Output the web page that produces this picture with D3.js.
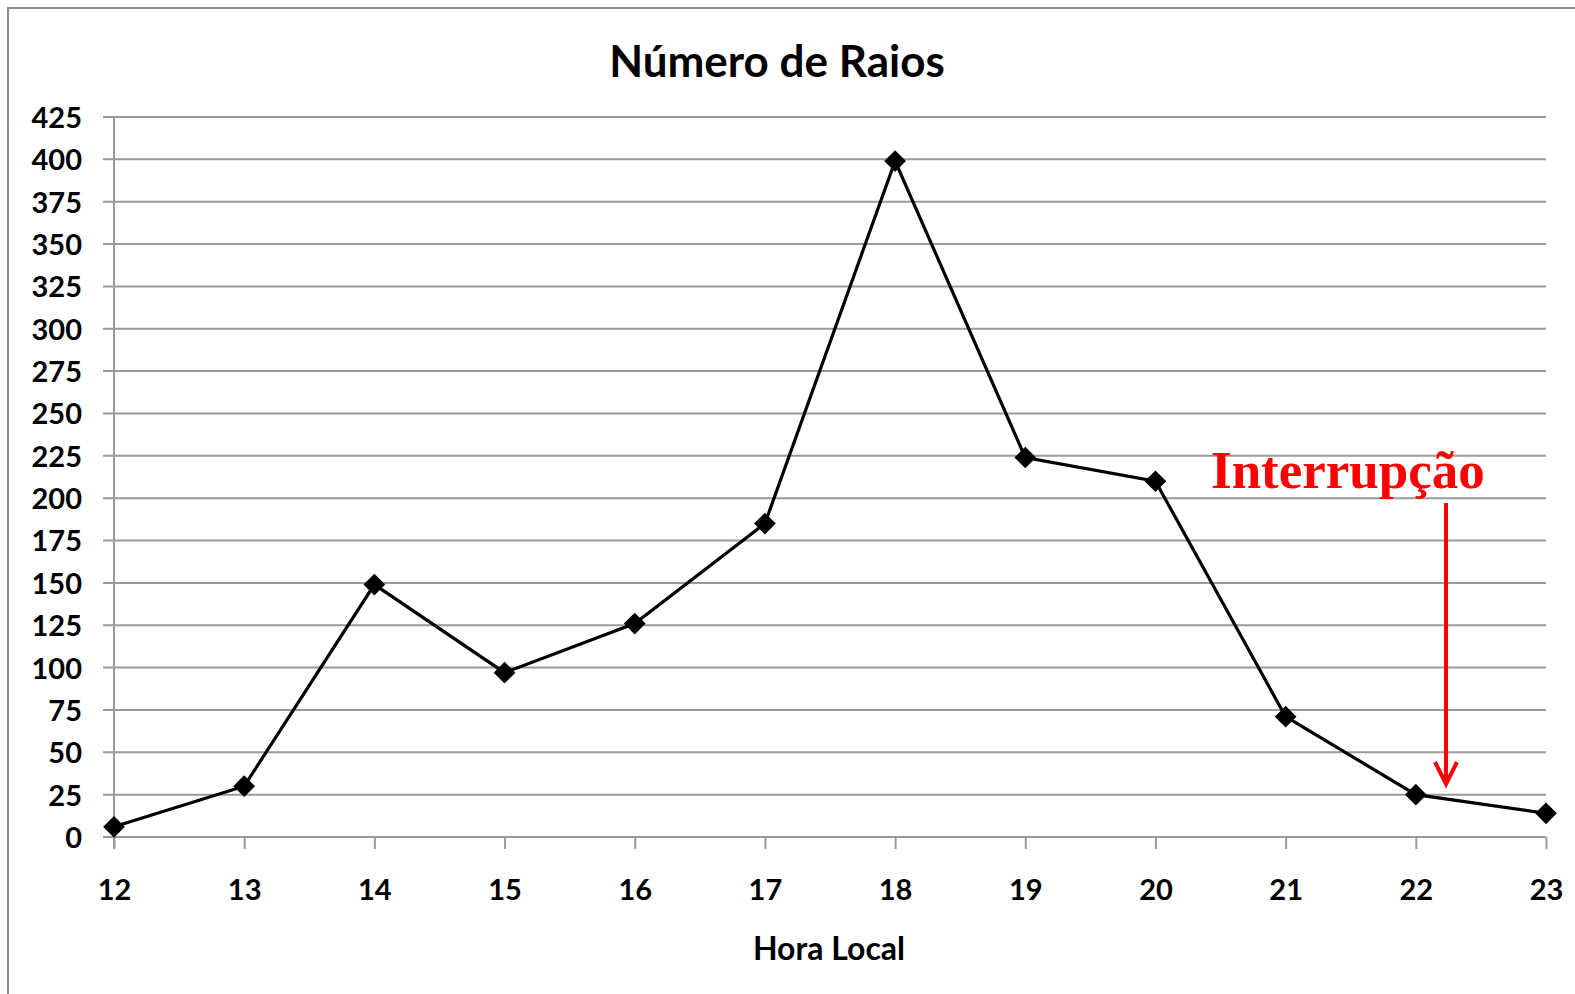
<!DOCTYPE html>
<html>
<head>
<meta charset="utf-8">
<script src="https://cdn.jsdelivr.net/npm/d3@7"></script>
<style>
  body { margin: 0; background: #fff; }
  .axis text { font-family: Lato, "Open Sans", sans-serif; font-weight: bold; fill: #000; }
  .axis path { display: none; }
</style>
</head>
<body>
<script>
// lightning counts per local hour
var hours = [12, 13, 14, 15, 16, 17, 18, 19, 20, 21, 22, 23];
var raios = [6, 30, 149, 97, 126, 185, 399, 224, 210, 71, 25, 14];
var yTicks = d3.range(0, 426, 25);

var width = 1575, height = 994;

var svg = d3.select("body").append("svg")
  .attr("width", width)
  .attr("height", height);

// outer chart frame (runs off the right and bottom edges)
svg.append("rect")
  .attr("x", 8).attr("y", 8)
  .attr("width", 1600).attr("height", 1000)
  .attr("fill", "none")
  .attr("stroke", "#8c8c8c")
  .attr("stroke-width", 2);

var xScale = d3.scaleLinear().domain([12, 23]).range([114, 1546]);
var yScale = d3.scaleLinear().domain([0, 425]).range([837, 117]);

// horizontal gridlines with the y tick marks
svg.append("g")
  .selectAll("line")
  .data(yTicks)
  .enter()
  .append("line")
  .attr("x1", 103)
  .attr("x2", xScale(23))
  .attr("y1", function(d) { return yScale(d); })
  .attr("y2", function(d) { return yScale(d); })
  .attr("stroke", "#9a9a9a")
  .attr("stroke-width", 2);

// y axis line
svg.append("line")
  .attr("x1", xScale(12)).attr("x2", xScale(12))
  .attr("y1", yScale(425)).attr("y2", yScale(0) + 12)
  .attr("stroke", "#9a9a9a")
  .attr("stroke-width", 2);

// y axis labels
var yAxis = d3.axisLeft(yScale).tickValues(yTicks).tickSize(0).tickPadding(32);
svg.append("g")
  .attr("class", "axis")
  .attr("transform", "translate(" + xScale(12) + ",0)")
  .call(yAxis)
  .selectAll("text")
  .style("font-size", "29px")
  .attr("dy", "0.36em");

// x axis
var xAxis = d3.axisBottom(xScale).tickValues(hours).tickSize(12).tickPadding(29);
var gx = svg.append("g")
  .attr("class", "axis")
  .attr("transform", "translate(0," + yScale(0) + ")")
  .call(xAxis);
gx.selectAll("line").attr("stroke", "#9a9a9a").attr("stroke-width", 2);
gx.selectAll("text").style("font-size", "29px").attr("dy", "0.75em");

// data line
var line = d3.line()
  .x(function(d, i) { return xScale(hours[i]); })
  .y(function(d) { return yScale(d); });

svg.append("path")
  .datum(raios)
  .attr("d", line)
  .attr("fill", "none")
  .attr("stroke", "#000")
  .attr("stroke-width", 3.2);

// diamond markers
svg.selectAll(".marker")
  .data(raios)
  .enter()
  .append("path")
  .attr("class", "marker")
  .attr("d", d3.symbol().type(d3.symbolDiamond2).size(300))
  .attr("transform", function(d, i) {
    return "translate(" + xScale(hours[i]) + "," + yScale(d) + ")";
  })
  .attr("fill", "#000");

// title
svg.append("text")
  .attr("x", 777)
  .attr("y", 77)
  .attr("text-anchor", "middle")
  .style("font-family", "Lato, 'Open Sans', sans-serif")
  .style("font-weight", "bold")
  .style("font-size", "44px")
  .text("Número de Raios");

// x axis title
svg.append("text")
  .attr("x", 829)
  .attr("y", 960)
  .attr("text-anchor", "middle")
  .style("font-family", "Lato, 'Open Sans', sans-serif")
  .style("font-weight", "bold")
  .style("font-size", "32px")
  .text("Hora Local");

// annotation
svg.append("text")
  .attr("x", 1211)
  .attr("y", 488)
  .style("font-family", "'Liberation Serif', 'Times New Roman', serif")
  .style("font-weight", "bold")
  .style("font-size", "53px")
  .attr("fill", "#ff0000")
  .text("Interrupção");

var arrowX = 1446;
svg.append("line")
  .attr("x1", arrowX).attr("x2", arrowX)
  .attr("y1", 503).attr("y2", 784)
  .attr("stroke", "#ff0000")
  .attr("stroke-width", 4);

svg.append("path")
  .attr("d", "M" + (arrowX - 11) + ",762 L" + arrowX + ",784 L" + (arrowX + 11) + ",762")
  .attr("fill", "none")
  .attr("stroke", "#ff0000")
  .attr("stroke-width", 4);
</script>
</body>
</html>
